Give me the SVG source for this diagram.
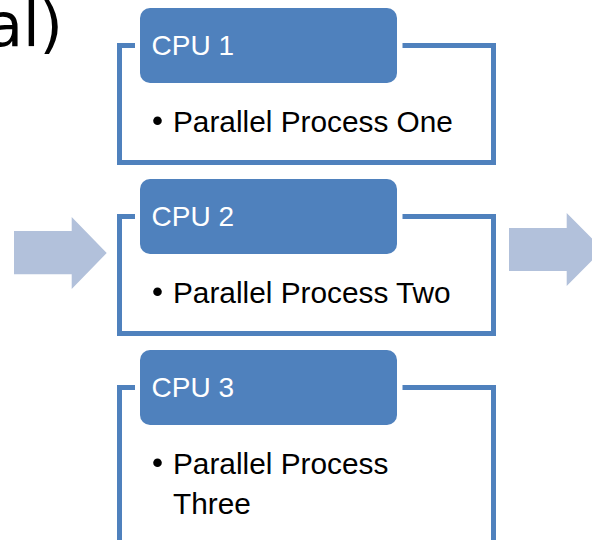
<svg xmlns="http://www.w3.org/2000/svg" width="592" height="540" viewBox="0 0 592 540">
<style>
.frame{fill:none;stroke:#4F81BD;stroke-width:5;stroke-linejoin:miter}
.hdr{fill:#4F81BD}
.hdrtxt{font-family:"Liberation Sans",Arial,sans-serif;font-size:28px;fill:#FFFFFF}
.body{font-family:"Liberation Sans",Arial,sans-serif;font-size:29.8px;fill:#000000}
.bullet{fill:#000000}
.arrow{fill:#B2C1DB}
.title{font-family:"DejaVu Sans",sans-serif;font-size:60px;fill:#000000}
</style>
<rect width="592" height="540" fill="#FFFFFF"/>
<text class="title" x="63" y="46" text-anchor="end">al)</text>
<g id="connectors">
  <path class="arrow" d="M14,231 H71.7 V217 L106.7,253 L71.7,289 V274.3 H14 Z"/>
  <path class="arrow" d="M509,228 H566.7 V213 L603,249.5 L566.7,286 V271 H509 Z"/>
</g>
<g id="cpu1">
  <path class="frame" d="M135,45.5 H119.5 V162.5 H493.5 V45.5 H402.5"/>
  <rect class="hdr" x="140" y="8" width="257" height="75" rx="10" ry="10"/>
  <text class="hdrtxt" x="151.5" y="55">CPU 1</text>
  <circle class="bullet" cx="157.5" cy="120.8" r="4.3"/>
  <text class="body" x="173" y="131.7">Parallel Process One</text>
</g>
<g id="cpu2">
  <path class="frame" d="M135,216.5 H119.5 V333.5 H493.5 V216.5 H402.5"/>
  <rect class="hdr" x="140" y="179" width="257" height="75" rx="10" ry="10"/>
  <text class="hdrtxt" x="151.5" y="226">CPU 2</text>
  <circle class="bullet" cx="157.5" cy="291.8" r="4.3"/>
  <text class="body" x="173" y="302.7">Parallel Process Two</text>
</g>
<g id="cpu3">
  <path class="frame" d="M135,387.5 H119.5 V560 H493.5 V387.5 H402.5"/>
  <rect class="hdr" x="140" y="350" width="257" height="75" rx="10" ry="10"/>
  <text class="hdrtxt" x="151.5" y="397">CPU 3</text>
  <circle class="bullet" cx="157.5" cy="462.8" r="4.3"/>
  <text class="body" x="173" y="473.7">Parallel Process</text>
  <text class="body" x="173" y="513.7">Three</text>
</g>
</svg>
